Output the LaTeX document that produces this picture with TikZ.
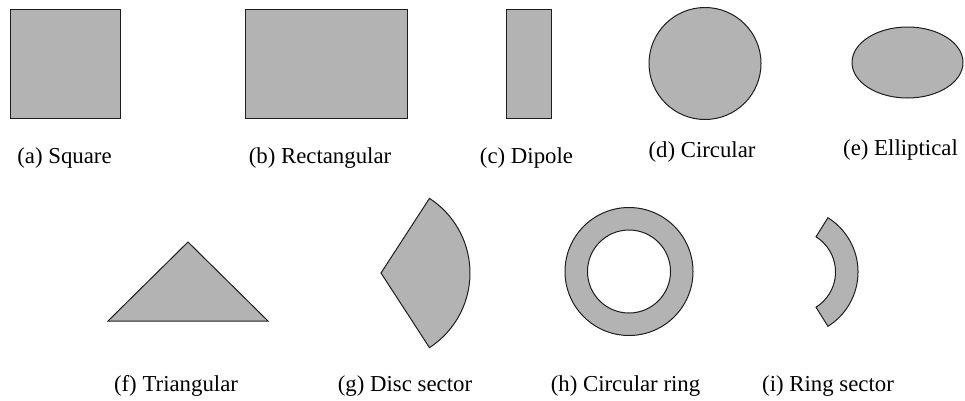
\documentclass[tikz,border=0pt]{standalone}
\usepackage{fontspec}
\setmainfont{Liberation Serif}
\begin{document}
\begin{tikzpicture}[x=1pt,y=-1pt,
  shapefill/.style={fill={rgb,255:red,179;green,179;blue,179},draw={rgb,255:red,30;green,30;blue,30},line width=1pt,line join=miter},
  lbl/.style={anchor=base,inner sep=0pt,font=\fontsize{22.8}{27}\selectfont}]
\useasboundingbox[fill=white] (0,0) rectangle (965,400);
% (a) square
\draw[shapefill] (10,9) rectangle (120,118);
% (b) rectangle
\draw[shapefill] (245,9) rectangle (407,118);
% (c) dipole
\draw[shapefill] (506,9) rectangle (551,118);
% (d) circle
\draw[shapefill] (705,63.5) circle[radius=56pt];
% (e) ellipse
\draw[shapefill] (907.5,62.5) ellipse[x radius=55.5pt,y radius=35.5pt];
% (f) triangle
\draw[shapefill] (108,321) -- (188,242) -- (268,321) -- cycle;
% (g) disc sector
\draw[shapefill] (381,273) -- ++(-57:89pt) arc[start angle=-57,end angle=57,radius=89pt] -- cycle;
% (h) ring
\draw[shapefill,even odd rule] (629,271.5) circle[radius=64pt] (629,271.5) circle[radius=41.5pt];
% (i) ring sector
\coordinate (rc) at (794,272);
\draw[shapefill] ([shift={(-58:41.5pt)}]rc) -- ([shift={(-58:64pt)}]rc)
  arc[start angle=-58,end angle=58,radius=64pt]
  -- ([shift={(58:41.5pt)}]rc)
  arc[start angle=58,end angle=-58,radius=41.5pt] -- cycle;
% labels
\node[lbl] (la) at (64.5,163) {(a) Square};
\node[lbl] (lb) at (320,163) {(b) Rectangular};
\node[lbl] (lc) at (526.5,163) {(c) Dipole};
\node[lbl] (ld) at (702,157) {(d) Circular};
\node[lbl] (le) at (900.5,155.5) {(e) Elliptical};
\node[lbl] (lf) at (176,391) {(f) Triangular};
\node[lbl] (lg) at (405,391) {(g) Disc sector};
\node[lbl] (lh) at (625.5,391) {(h) Circular ring};
\node[lbl] (li) at (828,391) {(i) Ring sector};
\end{tikzpicture}
\end{document}
